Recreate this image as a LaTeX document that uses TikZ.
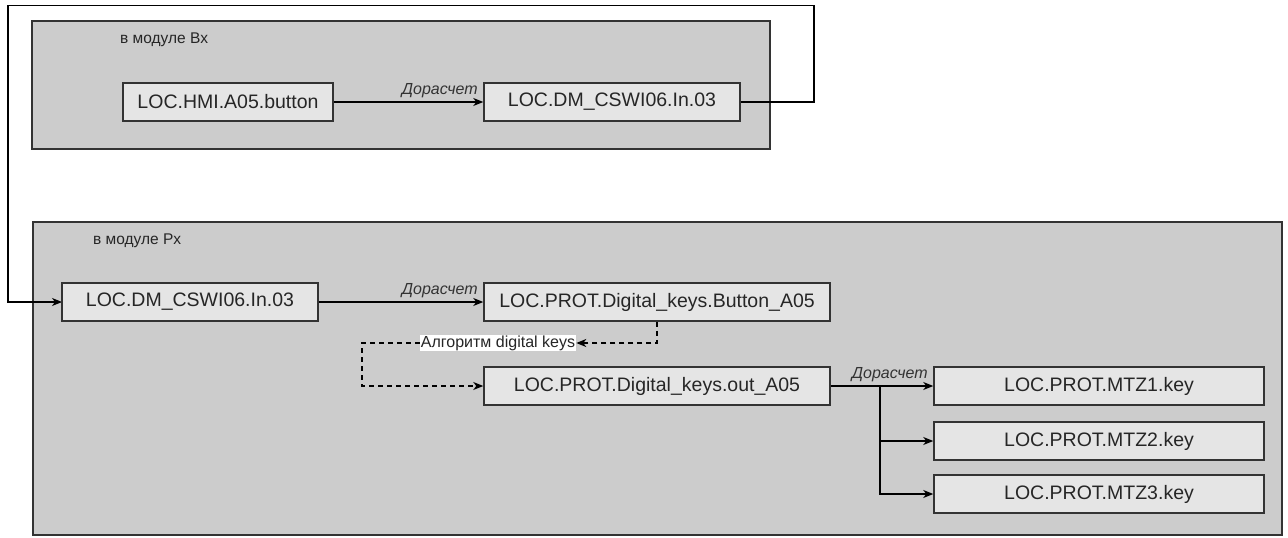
\documentclass[tikz,border=0pt]{standalone}
\usepackage{fontspec}
\setmainfont{Liberation Sans}
\usetikzlibrary{arrows.meta}

\begin{document}
\begin{tikzpicture}[x=1pt, y=-1pt,
		module/.style={draw=black!80, fill=black!20, line width=1.5pt},
		modlabel/.style={anchor=west, inner sep=0pt, text=black!85, font=\fontsize{15.5}{18}\selectfont},
		var/.style={draw=black!80, fill=black!10, line width=1.5pt, minimum height=38pt, inner sep=0pt, text=black!85, font=\fontsize{19.5}{22}\selectfont},
		link/.style={line width=1.3pt, -{Stealth[length=10pt, width=8pt, inset=3pt]}},
		calc/.style={font=\fontsize{16}{18}\selectfont\itshape, text=black!80, inner sep=1pt, pos=1, above left, xshift=-4pt, yshift=3pt},
	]
		%%%%% START %%%%%
		\useasboundingbox (0,0) rectangle (1288,538);
		
		% modules
		\draw[module] (32, 21) rectangle (770, 149);
		\draw[module] (33, 222) rectangle (1282, 535);
		\node[modlabel] (bxname) at (120, 40) {в модуле Вх};
		\node[modlabel] (pxname) at (93, 241) {в модуле Рх};
		
		% module Bx
		\node[var, minimum width=210pt] (btn) at (228, 102) {LOC.HMI.A05.button};
		\node[var, minimum width=256pt] (dmtop) at (612, 102) {LOC.DM\_CSWI06.In.03};
		\draw[link] (btn) -- node[calc] (calc1) {Дорасчет} (dmtop);
		
		% transfer Bx -> Px
		\draw[link, line width=1.1pt] (dmtop.east) -| (814, 5.5) -- (8, 5.5) |- (62, 302);
		
		% module Px
		\node[var, minimum width=256pt] (dmbot) at (190, 302) {LOC.DM\_CSWI06.In.03};
		\node[var, minimum width=346pt] (keybtn) at (657, 302) {LOC.PROT.Digital\_keys.Button\_A05};
		\node[var, minimum width=346pt] (keyout) at (657, 386) {LOC.PROT.Digital\_keys.out\_A05};
		\draw[link] (dmbot) -- node[calc] (calc2) {Дорасчет} (keybtn);
		
		\node[fill=white, inner sep=1pt, text=black!85, font=\fontsize{16}{18}\selectfont] (algo) at (498, 343) {Алгоритм digital keys};
		\draw[link, dash pattern=on 5pt off 4pt] (keybtn.south) |- (algo.east);
		\draw[link, dash pattern=on 5pt off 4pt] (algo.west) -- (362, 343) |- (keyout.west);
		
		\node[var, minimum width=330pt] (mtz1) at (1099, 386) {LOC.PROT.MTZ1.key};
		\node[var, minimum width=330pt] (mtz2) at (1099, 441) {LOC.PROT.MTZ2.key};
		\node[var, minimum width=330pt] (mtz3) at (1099, 494) {LOC.PROT.MTZ3.key};
		
		\coordinate (fork) at (880, 386);
		\draw[link] (keyout.east) -- (fork) -- node[calc] (calc3) {Дорасчет} (mtz1);
		\draw[link] (fork) |- (mtz2.west);
		\draw[link] (fork) |- (mtz3.west);
		%%%%% END %%%%%
	\end{tikzpicture}
\end{document}
